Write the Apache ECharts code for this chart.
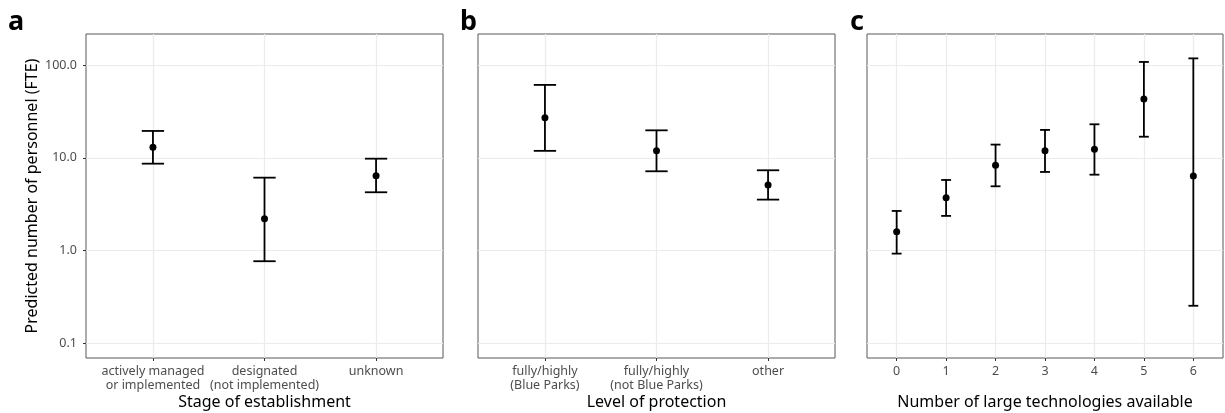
<!DOCTYPE html>
<html>
<head>
<meta charset="utf-8">
<script src="https://cdn.jsdelivr.net/npm/echarts@6/dist/echarts.min.js"></script>
<style>
html, body { margin: 0; padding: 0; background: #ffffff; }
#chart { width: 1225px; height: 413px; }
</style>
</head>
<body>
<div id="chart"></div>
<script>
// a: stage of establishment
const stageCategories = ['actively managed\nor implemented', 'designated\n(not implemented)', 'unknown'];
const stageFit = [13.0, 2.21, 6.43];
const stageLower = [8.66, 0.77, 4.26];
const stageUpper = [19.5, 6.12, 9.8];

// b: level of protection
const protectionCategories = ['fully/highly\n(Blue Parks)', 'fully/highly\n(not Blue Parks)', 'other'];
const protectionFit = [27.1, 11.9, 5.1];
const protectionLower = [11.9, 7.17, 3.55];
const protectionUpper = [61.1, 19.8, 7.35];

// c: number of large technologies available
const techCategories = ['0', '1', '2', '3', '4', '5', '6'];
const techFit = [1.60, 3.72, 8.32, 11.9, 12.4, 43.1, 6.38];
const techLower = [0.93, 2.37, 4.94, 7.05, 6.59, 16.9, 0.255];
const techUpper = [2.68, 5.78, 13.9, 20.0, 23.0, 108, 118];

const yTicks = [0.1, 1, 10, 100];
const yTitle = 'Predicted number of personnel (FTE)';
const panelLetters = ['a', 'b', 'c'];
const xTitles = ['Stage of establishment', 'Level of protection', 'Number of large technologies available'];

const panels = [
  { cats: stageCategories, fit: stageFit, lo: stageLower, hi: stageUpper, left: 86, width: 357, letterX: 8 },
  { cats: protectionCategories, fit: protectionFit, lo: protectionLower, hi: protectionUpper, left: 478, width: 357, letterX: 460 },
  { cats: techCategories, fit: techFit, lo: techLower, hi: techUpper, left: 867, width: 356, letterX: 850 }
];

const FONT = '"Noto Sans", "DejaVu Sans", sans-serif';
const GRID_TOP = 34, GRID_HEIGHT = 324;
const Y_MIN = 0.0698, Y_MAX = 216;
const CAP_HALF = 0.1;

// vertical interval with a cap at each end
function errorBar(params, api) {
  const x = api.value(0);
  const lo = api.value(1);
  const hi = api.value(2);
  const pLo = api.coord([x, lo]);
  const pHi = api.coord([x, hi]);
  const xl = api.coord([x - CAP_HALF, lo])[0];
  const xr = api.coord([x + CAP_HALF, lo])[0];
  const style = { stroke: '#000000', lineWidth: 1.8 };
  return {
    type: 'group',
    children: [
      { type: 'line', shape: { x1: pLo[0], y1: pLo[1], x2: pHi[0], y2: pHi[1] }, style: style },
      { type: 'line', shape: { x1: xl, y1: pHi[1], x2: xr, y2: pHi[1] }, style: style },
      { type: 'line', shape: { x1: xl, y1: pLo[1], x2: xr, y2: pLo[1] }, style: style }
    ]
  };
}

const grid = [], xAxis = [], yAxis = [], series = [], graphic = [];

panels.forEach(function (p, i) {
  const n = p.cats.length;
  const idx = p.cats.map(function (_, k) { return k; });
  grid.push({
    left: p.left, top: GRID_TOP, width: p.width, height: GRID_HEIGHT,
    containLabel: false, outerBoundsMode: 'none',
    show: true, borderColor: '#595959', borderWidth: 1, backgroundColor: '#ffffff'
  });
  xAxis.push({
    type: 'value', gridIndex: i,
    min: -0.6, max: n - 1 + 0.6,
    name: xTitles[i], nameLocation: 'middle', nameGap: 36, nameMoveOverlap: false,
    nameTextStyle: { fontFamily: FONT, fontSize: 16, color: '#000000' },
    axisLine: { show: false, onZero: false },
    axisTick: { show: true, length: 3, customValues: idx, lineStyle: { color: '#333333', width: 1 } },
    axisLabel: {
      customValues: idx, margin: 6, fontFamily: FONT, fontSize: 12.5, color: '#4d4d4d', lineHeight: 14.3,
      formatter: function (v) { return p.cats[Math.round(v)]; }
    },
    splitLine: { show: true, lineStyle: { color: '#ebebeb', width: 1.2 } }
  });
  yAxis.push({
    type: 'log', gridIndex: i, logBase: 10,
    min: Y_MIN, max: Y_MAX,
    name: i === 0 ? yTitle : '', nameLocation: 'middle', nameGap: 46, nameMoveOverlap: false,
    nameTextStyle: { fontFamily: FONT, fontSize: 16, color: '#000000' },
    axisLine: { show: false, onZero: false },
    axisTick: { show: i === 0, length: 3, customValues: yTicks, lineStyle: { color: '#333333', width: 1 } },
    axisLabel: {
      show: i === 0, customValues: yTicks, margin: 9, fontFamily: FONT, fontSize: 12.5, color: '#4d4d4d',
      formatter: function (v) { return Number(v).toFixed(1); }
    },
    splitLine: { show: true, lineStyle: { color: '#ebebeb', width: 1.2 } }
  });
  series.push({
    type: 'custom', xAxisIndex: i, yAxisIndex: i,
    renderItem: errorBar,
    encode: { x: 0, y: [1, 2] },
    data: idx.map(function (k) { return [k, p.lo[k], p.hi[k]]; }),
    z: 3
  });
  series.push({
    type: 'scatter', xAxisIndex: i, yAxisIndex: i,
    symbol: 'circle', symbolSize: 7,
    itemStyle: { color: '#000000', opacity: 1 },
    data: idx.map(function (k) { return [k, p.fit[k]]; }),
    z: 4
  });
  graphic.push({
    type: 'text', left: p.letterX, top: 9,
    style: { text: panelLetters[i], fontFamily: FONT, fontSize: 27, fontWeight: 'bold', fill: '#000000' }
  });
});

const chart = echarts.init(document.getElementById('chart'), null, { renderer: 'canvas' });
chart.setOption({
  animation: false,
  backgroundColor: '#ffffff',
  grid: grid,
  xAxis: xAxis,
  yAxis: yAxis,
  series: series,
  graphic: graphic
});
</script>
</body>
</html>
